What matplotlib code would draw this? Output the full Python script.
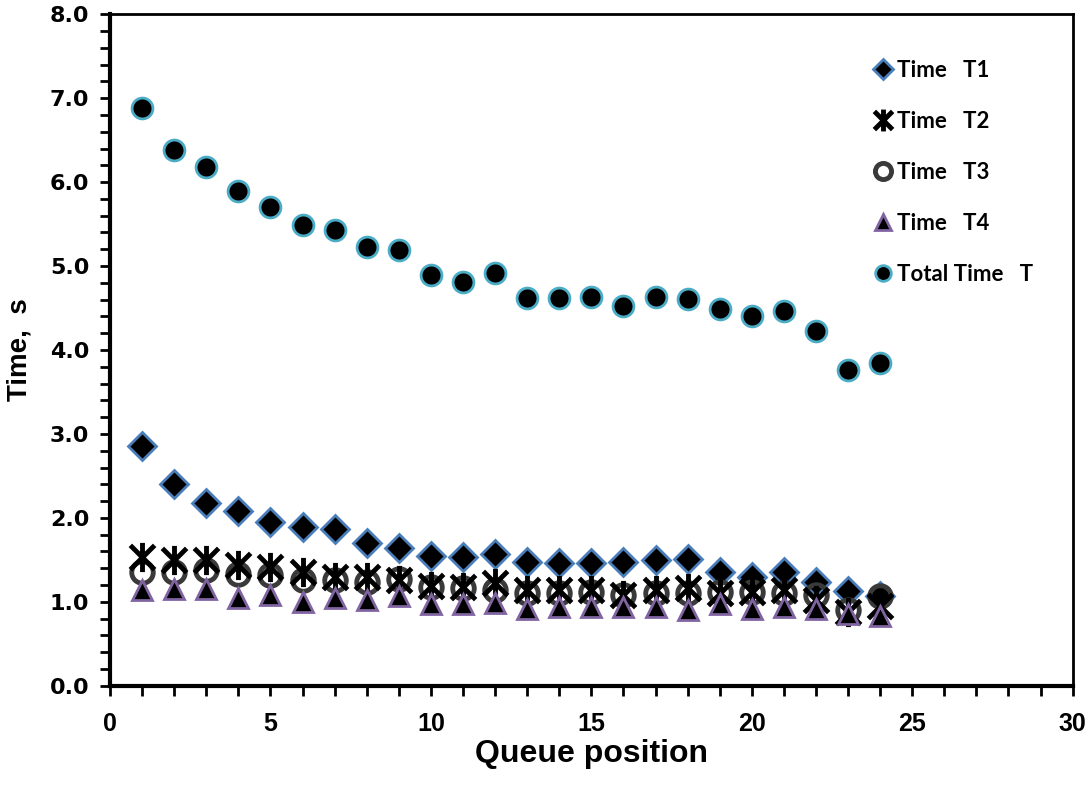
import matplotlib
matplotlib.use("Agg")
import matplotlib.pyplot as plt
from matplotlib.path import Path
from matplotlib.ticker import MultipleLocator, FormatStrFormatter

# Dados
posicao = list(range(1, 25))
t1 = [2.86, 2.40, 2.18, 2.08, 1.95, 1.89, 1.87, 1.70, 1.64, 1.55, 1.54, 1.57,
      1.47, 1.46, 1.46, 1.47, 1.50, 1.51, 1.36, 1.30, 1.36, 1.24, 1.13, 1.07]
t2 = [1.54, 1.50, 1.50, 1.44, 1.42, 1.36, 1.30, 1.30, 1.26, 1.19, 1.18, 1.22,
      1.14, 1.14, 1.14, 1.08, 1.14, 1.16, 1.10, 1.12, 1.14, 1.02, 0.88, 0.95]
t3 = [1.36, 1.36, 1.38, 1.33, 1.32, 1.26, 1.26, 1.24, 1.27, 1.18, 1.16, 1.14,
      1.11, 1.11, 1.12, 1.08, 1.10, 1.10, 1.12, 1.12, 1.10, 1.08, 0.90, 1.07]
t4 = [1.14, 1.15, 1.15, 1.05, 1.08, 1.00, 1.05, 1.02, 1.07, 0.98, 0.98, 0.99,
      0.92, 0.94, 0.94, 0.94, 0.94, 0.90, 0.98, 0.92, 0.94, 0.91, 0.85, 0.83]
total = [6.88, 6.38, 6.18, 5.90, 5.70, 5.49, 5.43, 5.23, 5.19, 4.89, 4.81, 4.92,
         4.62, 4.62, 4.63, 4.52, 4.63, 4.61, 4.49, 4.40, 4.46, 4.23, 3.76, 3.85]

# Marcador "asterisco" do Excel (X + traço vertical)
estrela = Path([(-1, -1), (1, 1), (-1, 1), (1, -1), (0, -1.2), (0, 1.2)],
               [Path.MOVETO, Path.LINETO, Path.MOVETO, Path.LINETO,
                Path.MOVETO, Path.LINETO])

fig = plt.figure(figsize=(10.89, 7.91), dpi=100)
ax = fig.add_axes([0.101, 0.133, 0.884, 0.849])

ax.plot(posicao, t1, linestyle="none", marker="D", markersize=14,
        markerfacecolor="black", markeredgecolor="#4A7EBB", markeredgewidth=2,
        label="Time   T1", zorder=3)
ax.plot(posicao, t2, linestyle="none", marker=estrela, markersize=21,
        markeredgecolor="black", markeredgewidth=3.5, label="Time   T2", zorder=4)
ax.plot(posicao, t3, linestyle="none", marker="o", markersize=15.5,
        markerfacecolor="none", markeredgecolor="#3a3a3a", markeredgewidth=3.5,
        label="Time   T3", zorder=3)
ax.plot(posicao, t4, linestyle="none", marker="^", markersize=15,
        markerfacecolor="black", markeredgecolor="#8064A2", markeredgewidth=2,
        label="Time   T4", zorder=5)
ax.plot(posicao, total, linestyle="none", marker="o", markersize=15,
        markerfacecolor="black", markeredgecolor="#4BACC6", markeredgewidth=2,
        label="Total Time   T", zorder=3)

ax.set_xlim(0, 30)
ax.set_ylim(0, 8)
ax.xaxis.set_major_locator(MultipleLocator(5))
ax.xaxis.set_minor_locator(MultipleLocator(1))
ax.yaxis.set_major_locator(MultipleLocator(1))
ax.yaxis.set_minor_locator(MultipleLocator(0.2))
ax.yaxis.set_major_formatter(FormatStrFormatter("%.1f"))

ax.tick_params(axis="both", which="both", direction="out", width=2, length=7)
ax.tick_params(axis="x", pad=12)
ax.tick_params(axis="y", pad=8)

for lab in ax.get_xticklabels():
    lab.set_fontfamily("Liberation Sans")
    lab.set_fontweight("bold")
    lab.set_fontsize(18)
for lab in ax.get_yticklabels():
    lab.set_fontfamily("DejaVu Sans")
    lab.set_fontweight("bold")
    lab.set_fontsize(16)

for s in ax.spines.values():
    s.set_linewidth(2)
ax.spines["left"].set_linewidth(3)
ax.spines["bottom"].set_linewidth(3)

ax.set_xlabel("Queue position", fontfamily="Liberation Sans",
              fontweight="bold", fontsize=23, labelpad=2)
ax.set_ylabel("Time,  s", fontfamily="Liberation Sans", fontweight="bold",
              fontsize=20, labelpad=12)

leg = ax.legend(loc="upper left", bbox_to_anchor=(0.772, 0.962), frameon=False,
                prop={"family": "Lato", "weight": "bold", "size": 16},
                handletextpad=0.15, handlelength=0.9, labelspacing=1.35,
                markerscale=0.75)

fig.savefig("out.png", dpi=100)
